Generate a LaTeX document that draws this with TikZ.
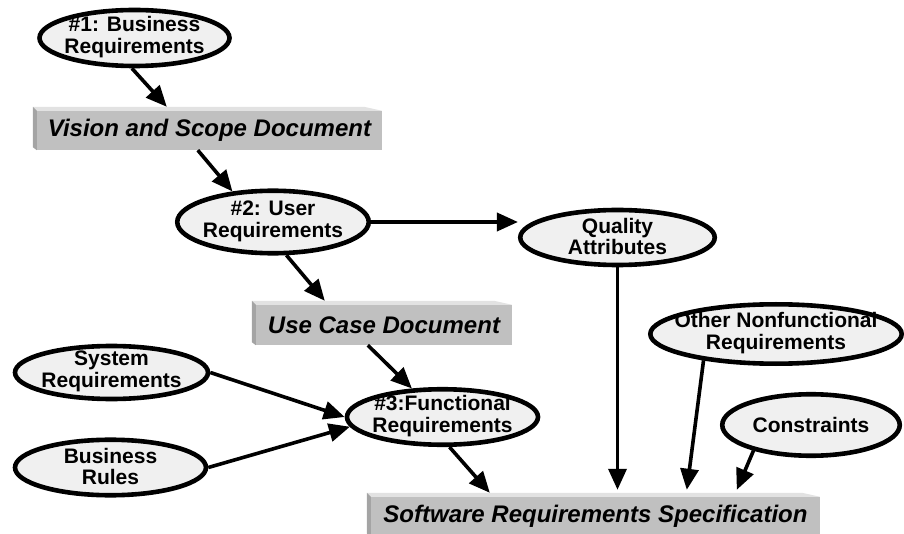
\documentclass[tikz,border=0pt]{standalone}
\usepackage{fontspec}
\setmainfont{Liberation Sans}
\usetikzlibrary{shapes.geometric,arrows.meta,calc}
\definecolor{ellfill}{HTML}{F0F0F0}
\definecolor{boxface}{HTML}{C0C0C0}
\definecolor{boxtop}{HTML}{E2E2E2}
\definecolor{boxleft}{HTML}{A4A4A4}
\newcommand\bevelbox[1]{%
  \fill[boxtop] ([shift={(-4,4)}]#1.north west) -- ([shift={(-18,4)}]#1.north east) -- (#1.north east) -- (#1.north west) -- cycle;
  \fill[boxleft] ([shift={(-4,4)}]#1.north west) -- (#1.north west) -- (#1.south west) -- ([shift={(-4,3)}]#1.south west) -- cycle;
}
\begin{document}
\begin{tikzpicture}[x=1pt,y=1pt,
  ell/.style={ellipse, draw=black, line width=4.6pt, fill=ellfill, inner sep=0pt},
  etext/.style={font=\fontsize{21}{21.8}\selectfont\bfseries, align=center, inner sep=0pt, yshift=1pt},
  face/.style={fill=boxface, inner sep=0pt, font=\fontsize{24}{26}\selectfont\bfseries\itshape},
  arr/.style={line width=3.6pt, -{Triangle[length=21pt,width=18pt]}},
]
\useasboundingbox (0,0) rectangle (904,533);
\clip (0,0) rectangle (904,533);

% ellipses
\node[ell, minimum width=190, minimum height=56] (e1) at (134.5,495) {};
\node[etext] (e1t) at (e1) {\#1: Business\\Requirements};
\node[ell, minimum width=191.5, minimum height=62.5] (e2) at (273,311) {};
\node[etext] (e2t) at (e2) {\#2: User\\Requirements};
\node[ell, minimum width=194.5, minimum height=55] (qa) at (617.5,295.5) {};
\node[etext] (qat) at (qa) {Quality\\Attributes};
\node[ell, minimum width=193, minimum height=53] (sys) at (111.5,160.5) {};
\node[etext] (syst) at (sys) {System\\Requirements};
\node[ell, minimum width=191, minimum height=55.5] (func) at (442.5,116) {};
\node[etext] (funct) at (func) {\#3:Functional\\Requirements};
\node[ell, minimum width=191, minimum height=55.5] (br) at (110.5,65.5) {};
\node[etext] (brt) at (br) {Business\\Rules};
\node[ell, minimum width=251.4, minimum height=59.4] (onf) at (776,199) {};
\node[etext] (onft) at (onf) {Other Nonfunctional\\Requirements};
\node[ell, minimum width=177.5, minimum height=61.5] (cons) at (811,108) {};
\node[etext, yshift=-1pt] (const) at (cons) {Constraints};

% document boxes
\node[face, minimum width=345, minimum height=39] (vision) at (209.5,402.5) {Vision and Scope Document};
\bevelbox{vision}
\node[face, minimum width=256, minimum height=40] (usecase) at (384,208) {Use Case Document};
\bevelbox{usecase}
\node[face, minimum width=449, minimum height=39.4] (srs) at (595.5,16.3) {Software Requirements Specification};
\bevelbox{srs}

% connectors
\draw[arr] (e1.265) -- ([shift={(130,4)}]vision.north west);
\draw[arr] ([xshift=161]vision.south west) -- (e2.143);
\draw[arr] (e2.east) -- (e2.east -| qa.west);
\draw[arr] (e2.292) -- ([shift={(69,4)}]usecase.north west);
\draw[arr] ([xshift=112]usecase.south west) -- (func.137);
\draw[arr] (sys.east) -- (func.west);
\draw[arr] (br.east) -- (func.186);
\draw[arr] (func.283) -- ([shift={(119,4)}]srs.north west);
\draw[arr] (qa.south) -- ([yshift=7]qa.south |- srs.north);
\draw[arr] (onf.200) -- ([shift={(316,7)}]srs.north west);
\draw[arr] (cons.204) -- ([shift={(366,7)}]srs.north west);
\end{tikzpicture}
\end{document}
